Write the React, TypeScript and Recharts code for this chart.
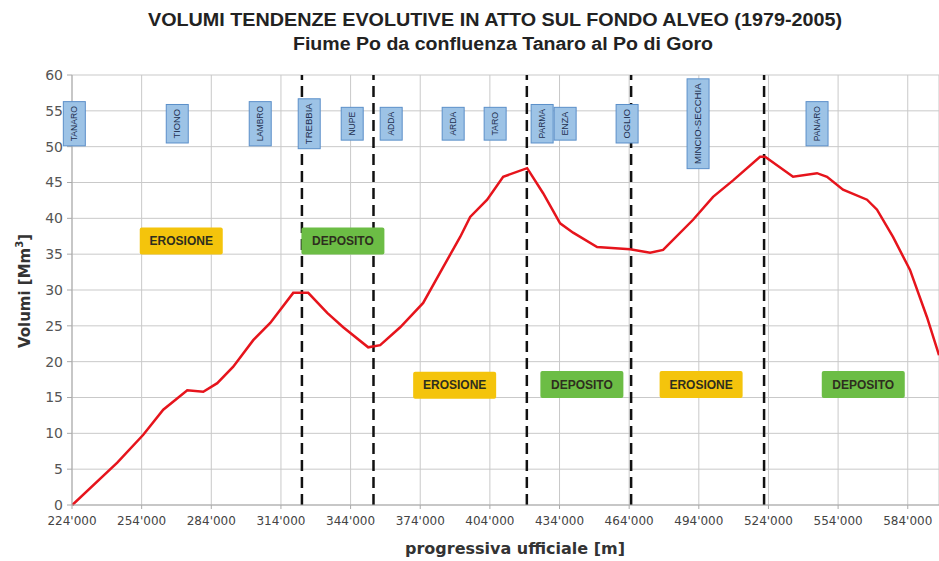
import React from 'react';
import { LineChart, Line, XAxis, YAxis, CartesianGrid, ReferenceLine, ReferenceDot } from 'recharts';

// progressiva [m] and volume [Mm3]
const progressiva = [
  224100, 243500, 254700, 263300, 273650, 280540, 286570, 293460, 302070, 309390,
  319290, 325750, 333930, 340820, 351590, 356750, 365370, 375270, 383880, 391200,
  395510, 402830, 409720, 420050, 426940, 434260, 439860, 450190, 464400, 473020,
  478620, 491530, 500140, 508760, 520380, 522540, 534590, 544930, 549230, 556120,
  566460, 570760, 577650, 584970, 592290, 597460,
];
const volumi = [
  0, 5.9, 9.8, 13.3, 16.0, 15.8, 17.0, 19.3, 23.0, 25.4,
  29.6, 29.6, 26.8, 24.8, 22.0, 22.3, 24.8, 28.2, 33.2, 37.4,
  40.2, 42.6, 45.8, 47.0, 43.5, 39.3, 38.0, 36.0, 35.7, 35.2,
  35.6, 39.8, 43.0, 45.3, 48.6, 48.6, 45.8, 46.3, 45.8, 44.0,
  42.6, 41.2, 37.4, 32.8, 26.2, 20.9,
];

const xTicks = [224000, 254000, 284000, 314000, 344000, 374000, 404000, 434000, 464000, 494000, 524000, 554000, 584000];
const yTicks = [0, 5, 10, 15, 20, 25, 30, 35, 40, 45, 50, 55, 60];

// tratti di separazione
const limiti = [323040, 353870, 419920, 464840, 522110];

// affluenti
const affluenti = ['TANARO', 'TIONO', 'LAMBRO', 'TREBBIA', 'NUPE', 'ADDA', 'ARDA', 'TARO', 'PARMA', 'ENZA', 'OGLIO', 'MINCIO-SECCHIA', 'PANARO'];
const affluentiX = [225000, 269340, 305080, 326180, 344700, 361490, 388190, 406270, 426510, 436420, 463110, 493680, 544930];

// tendenze
const tendenze = ['EROSIONE', 'DEPOSITO', 'EROSIONE', 'DEPOSITO', 'EROSIONE', 'DEPOSITO'];
const tendenzeX = [271060, 340690, 388830, 443630, 494990, 564840];
const tendenzeY = [36.85, 36.85, 16.7, 16.8, 16.8, 16.8];

const data = progressiva.map((x, i) => ({ x, v: volumi[i] }));

const fmtX = (v: number) => `${Math.round(v / 1000)}'000`;

const riverTag = (name: string) => (p: any) => {
  const w = 22;
  const h = name.length * 5.7 + 10;
  return (
    <g>
      <rect x={p.cx - w / 2} y={p.cy - h / 2} width={w} height={h} fill="#9dc3e6" stroke="#5b8fc9" strokeWidth={1} />
      <text
        transform={`translate(${p.cx},${p.cy}) rotate(-90)`}
        textAnchor="middle"
        dominantBaseline="central"
        fontSize={9}
        fill="#1f3050"
        fontFamily="'Liberation Sans Narrow', 'Liberation Sans', sans-serif"
        textLength={h - 9}
        lengthAdjust="spacingAndGlyphs"
      >
        {name}
      </text>
    </g>
  );
};

const trendTag = (name: string) => (p: any) => {
  const w = 83;
  const h = 27;
  const fill = name === 'EROSIONE' ? '#f4c40c' : '#6cbd45';
  return (
    <g>
      <rect x={p.cx - w / 2} y={p.cy - h / 2} width={w} height={h} fill={fill} rx={2} />
      <text x={p.cx} y={p.cy} textAnchor="middle" dominantBaseline="central" fontSize={12} fontWeight="bold" fill="#2e2e1e" fontFamily="'Liberation Sans', Arial, sans-serif">
        {name}
      </text>
    </g>
  );
};

export default function App() {
  return (
    <div style={{ position: 'absolute', left: 0, top: 0, width: 939, height: 561, background: '#fff', overflow: 'hidden' }}>
      <LineChart width={939} height={561} data={data} margin={{ top: 75, right: 0, bottom: 0, left: 0 }}>
        <CartesianGrid stroke="#c9c9c9" strokeWidth={1} />
        <XAxis
          dataKey="x"
          type="number"
          domain={[224000, 597460]}
          ticks={xTicks}
          tickFormatter={fmtX}
          height={56}
          tickSize={4}
          tickMargin={7}
          stroke="#aaaaaa"
          tick={{ fill: '#444', fontSize: 12, fontFamily: "'DejaVu Sans', sans-serif" }}
          allowDataOverflow
        />
        <YAxis
          type="number"
          domain={[0, 60]}
          ticks={yTicks}
          width={72}
          tickSize={5}
          tickMargin={4}
          stroke="#aaaaaa"
          tick={{ fill: '#555', fontSize: 14, fontFamily: "'DejaVu Sans', sans-serif" }}
        />
        {limiti.map((x) => (
          <ReferenceLine key={x} x={x} stroke="#111" strokeWidth={2.5} strokeDasharray="11 6" />
        ))}
        <Line type="linear" dataKey="v" stroke="#e6141c" strokeWidth={2.5} dot={false} isAnimationActive={false} />
        {affluenti.map((n, i) => (
          <ReferenceDot key={n} x={affluentiX[i]} y={53.2} shape={riverTag(n)} />
        ))}
        {tendenze.map((n, i) => (
          <ReferenceDot key={i} x={tendenzeX[i]} y={tendenzeY[i]} shape={trendTag(n)} />
        ))}
      </LineChart>
      <svg width={939} height={561} style={{ position: 'absolute', left: 0, top: 0, pointerEvents: 'none' }}>
        <text x={495} y={26} textAnchor="middle" fontSize={18} fontWeight="bold" fill="#222" fontFamily="'Liberation Sans', Arial, sans-serif" textLength={694} lengthAdjust="spacingAndGlyphs">
          VOLUMI TENDENZE EVOLUTIVE IN ATTO SUL FONDO ALVEO (1979-2005)
        </text>
        <text x={503} y={50} textAnchor="middle" fontSize={18} fontWeight="bold" fill="#222" fontFamily="'Liberation Sans', Arial, sans-serif" textLength={420} lengthAdjust="spacingAndGlyphs">
          Fiume Po da confluenza Tanaro al Po di Goro
        </text>
        <text x={515} y={554} textAnchor="middle" fontSize={16} fontWeight="bold" fill="#333" fontFamily="'DejaVu Sans', sans-serif">
          progressiva ufficiale [m]
        </text>
        <text transform="translate(30,291) rotate(-90)" textAnchor="middle" fontSize={15} fontWeight="bold" fill="#333" fontFamily="'DejaVu Sans', sans-serif">
          Volumi [Mm<tspan fontSize={10} dy={-7}>3</tspan><tspan dy={7}>]</tspan>
        </text>
      </svg>
    </div>
  );
}
